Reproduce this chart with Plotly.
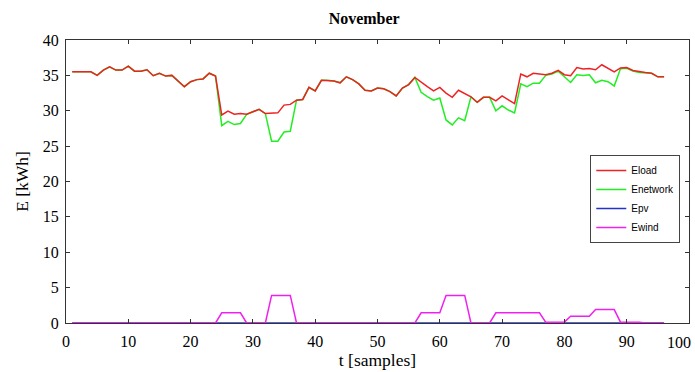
import plotly.graph_objects as go

t = list(range(1, 97))

eload = [35.5, 35.5, 35.5, 35.5, 35.0, 35.75, 36.2, 35.75, 35.75, 36.3,
         35.6, 35.6, 35.8, 34.95, 35.3, 34.9, 35.0, 34.2, 33.4, 34.1,
         34.4, 34.5, 35.3, 34.9, 29.4, 29.95, 29.5, 29.6, 29.5, 29.85,
         30.2, 29.6, 29.6, 29.7, 30.8, 30.9, 31.5, 31.6, 33.3, 32.8,
         34.3, 34.3, 34.2, 33.95, 34.8, 34.4, 33.8, 32.9, 32.8, 33.2,
         33.1, 32.7, 32.1, 33.2, 33.7, 34.7, 34.0, 33.4, 32.8, 33.3,
         32.5, 31.9, 32.9, 32.4, 31.97, 31.2, 31.9, 31.9, 31.4, 32.1,
         31.5, 31.0, 35.2, 34.8, 35.3, 35.2, 35.1, 35.3, 35.7, 35.1,
         34.95, 36.1, 35.9, 35.97, 35.8, 36.5, 36.05, 35.5, 36.05, 36.1,
         35.7, 35.5, 35.4, 35.3, 34.8, 34.8]

enetwork = [35.5, 35.5, 35.5, 35.5, 35.0, 35.75, 36.2, 35.75, 35.75, 36.3,
            35.6, 35.6, 35.8, 34.95, 35.3, 34.9, 35.0, 34.2, 33.4, 34.1,
            34.4, 34.5, 35.3, 34.9, 27.9, 28.5, 28.05, 28.2, 29.5, 29.85,
            30.2, 29.6, 25.7, 25.7, 27.0, 27.1, 31.5, 31.6, 33.3, 32.8,
            34.3, 34.3, 34.2, 33.95, 34.8, 34.4, 33.8, 32.9, 32.8, 33.2,
            33.1, 32.7, 32.1, 33.2, 33.7, 34.7, 32.6, 32.0, 31.5, 31.8,
            28.7, 28.0, 29.0, 28.6, 31.97, 31.2, 31.9, 31.9, 30.0, 30.7,
            30.1, 29.7, 33.8, 33.4, 33.9, 33.9, 35.0, 35.2, 35.6, 34.8,
            34.0, 35.1, 35.0, 35.1, 33.95, 34.3, 34.1, 33.5, 35.95, 36.0,
            35.6, 35.4, 35.4, 35.3, 34.8, 34.8]

epv = [0.0] * 96

ewind = [0.0] * 24 + [1.45] * 4 + [0.0] * 4 + [3.9] * 4 + [0.0] * 20 + \
        [1.45] * 4 + [3.9] * 4 + [0.0] * 4 + [1.45] * 8 + [0.12] * 4 + \
        [0.95] * 4 + [1.9] * 4 + [0.12] * 4 + [0.0] * 4

# the last x label (100) sits at the figure's edge, so it is written as an annotation
x_tickvals = list(range(0, 101, 10))
x_ticklabels = ["0", "10", "20", "30", "40", "50", "60", "70", "80", "90", ""]
x_last_label = "100"
y_tickvals = list(range(0, 41, 5))
y_ticklabels = ["0", "5", "10", "15", "20", "25", "30", "35", "40"]

serif = "Liberation Serif, Times New Roman, serif"
sans = "Liberation Sans, Arial, sans-serif"

fig = go.Figure()
fig.add_trace(go.Scatter(x=t, y=enetwork, mode="lines", name="Enetwork",
                         line=dict(color="#22ee22", width=1.5), legendrank=2))
fig.add_trace(go.Scatter(x=t, y=epv, mode="lines", name="Epv",
                         line=dict(color="#2233cc", width=1.5), legendrank=3))
fig.add_trace(go.Scatter(x=t, y=ewind, mode="lines", name="Ewind",
                         line=dict(color="#ee22ee", width=1.5), legendrank=4))
fig.add_trace(go.Scatter(x=t, y=eload, mode="lines", name="Eload",
                         line=dict(color="#ee2222", width=1.5), legendrank=1))

fig.add_annotation(x=x_tickvals[-1], xref="x", y=0, yref="paper", text=x_last_label,
                   showarrow=False, xanchor="right", yanchor="top", xshift=4, yshift=-9,
                   font=dict(family=serif, size=16, color="black"))

fig.update_layout(
    width=695, height=372,
    margin=dict(l=66, r=6, t=40, b=49),
    paper_bgcolor="white", plot_bgcolor="white",
    title=dict(text="<b>November</b>", x=0.524, xanchor="center", xref="container",
               y=0.9516, yanchor="middle", yref="container",
               font=dict(family=serif, size=16, color="black")),
    font=dict(family=serif, size=16, color="black"),
    showlegend=True,
    legend=dict(x=0.986, y=0.594, xanchor="right", yanchor="top",
                bgcolor="white", bordercolor="#444444", borderwidth=1,
                font=dict(family=sans, size=10, color="black"),
                tracegroupgap=0, itemwidth=30),
    xaxis=dict(range=[0, 100], tickmode="array", tickvals=x_tickvals, ticktext=x_ticklabels,
               ticks="inside", ticklen=4, tickcolor="#333333", automargin=False,
               ticklabelstandoff=4,
               showline=True, linecolor="#333333", linewidth=1, mirror="ticks",
               showgrid=False, zeroline=False,
               tickfont=dict(family=serif, size=16),
               title=dict(text="t [samples]", standoff=0, font=dict(family=serif, size=17.5))),
    yaxis=dict(range=[0, 40], tickmode="array", tickvals=y_tickvals, ticktext=y_ticklabels,
               ticks="inside", ticklen=4, tickcolor="#333333", automargin=False,
               ticklabelstandoff=3,
               showline=True, linecolor="#333333", linewidth=1, mirror="ticks",
               showgrid=False, zeroline=False,
               tickfont=dict(family=serif, size=16),
               title=dict(text="E [kWh]", standoff=9, font=dict(family=serif, size=17.5))),
)

fig.write_html("out.html", config={"displayModeBar": False},
               post_script="document.body.style.margin='0';document.body.style.overflow='hidden';")
